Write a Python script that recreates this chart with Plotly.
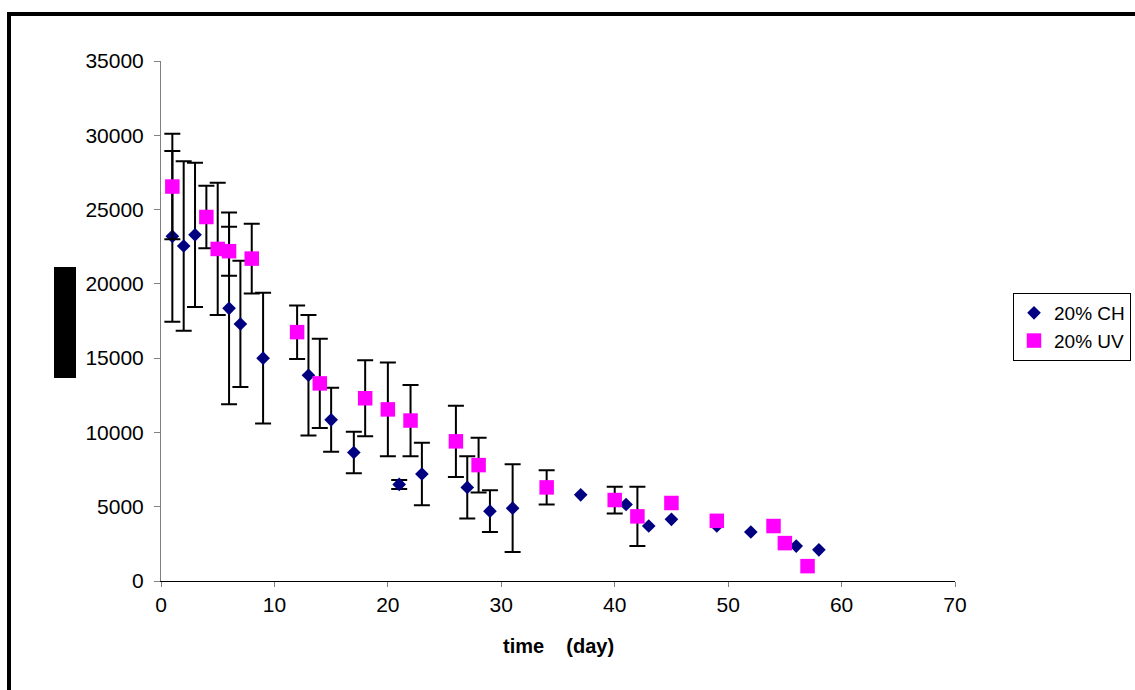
import plotly.graph_objects as go

# ---- data -------------------------------------------------------------
# 20% CH : days, mean values, symmetric error (None = no error bar)
ch_day = [1, 2, 3, 6, 7, 9, 13, 15, 17, 21, 23, 27, 29, 31, 37, 41, 43, 45, 49, 52, 56, 58]
ch_val = [23200, 22550, 23300, 18350, 17300, 15000, 13850, 10850, 8650, 6500, 7200, 6300,
          4700, 4900, 5800, 5150, 3700, 4150, 3700, 3300, 2350, 2100]
ch_err = [5750, 5700, 4850, 6450, 4250, 4400, 4050, 2150, 1400, 300, 2100, 2100,
          1400, 2950, None, None, None, None, None, None, None, None]

# 20% UV
uv_day = [1, 4, 5, 6, 8, 12, 14, 18, 20, 22, 26, 28, 34, 40, 42, 45, 49, 54, 55, 57]
uv_val = [26550, 24500, 22350, 22200, 21700, 16750, 13300, 12300, 11550, 10800, 9400, 7800,
          6300, 5450, 4350, 5250, 4050, 3700, 2550, 1000]
uv_err = [3550, 2100, 4450, 1650, 2350, 1800, 3000, 2550, 3150, 2400, 2400, 1850,
          1150, 900, 2000, None, None, None, None, None]

x_ticks = [0, 10, 20, 30, 40, 50, 60, 70]
y_ticks = [0, 5000, 10000, 15000, 20000, 25000, 30000, 35000]

# ---- page geometry (pixels) --------------------------------------------
W, H = 1135, 690
PL, PR, PT, PB = 161, 955, 61, 581   # plot area edges

def px_x(p):
    return (p - PL) / (PR - PL)

def px_y(p):
    return (PB - p) / (PB - PT)

FONT = "Arial, Liberation Sans, sans-serif"
NAVY = "#000080"
MAGENTA = "#FF00FF"


def split(days, vals, errs):
    with_err = [(d, v, e) for d, v, e in zip(days, vals, errs) if e is not None]
    no_err = [(d, v) for d, v, e in zip(days, vals, errs) if e is None]
    return with_err, no_err


def add_series(fig, name, days, vals, errs, symbol, size, color):
    with_err, no_err = split(days, vals, errs)
    err_style = dict(type="data", symmetric=True, color="black", thickness=2, width=8)
    fig.add_trace(go.Scatter(
        x=[p[0] for p in with_err], y=[p[1] for p in with_err],
        mode="markers", name=name, legendgroup=name,
        marker=dict(symbol=symbol, size=size, color=color, line=dict(width=0)),
        error_y=dict(array=[p[2] for p in with_err], **err_style),
    ))
    fig.add_trace(go.Scatter(
        x=[p[0] for p in no_err], y=[p[1] for p in no_err],
        mode="markers", name=name, legendgroup=name, showlegend=False,
        marker=dict(symbol=symbol, size=size, color=color, line=dict(width=0)),
    ))


fig = go.Figure()
add_series(fig, "20% CH", ch_day, ch_val, ch_err, "diamond", 10.5, NAVY)
add_series(fig, "20% UV", uv_day, uv_val, uv_err, "square", 14.5, MAGENTA)

fig.update_layout(
    width=W, height=H,
    margin=dict(l=PL, r=W - PR, t=PT, b=H - PB, pad=0, autoexpand=False),
    paper_bgcolor="white", plot_bgcolor="white",
    font=dict(family=FONT, size=20, color="black"),
    showlegend=True,
    legend=dict(
        x=px_x(1013), y=px_y(293), xanchor="left", yanchor="top",
        bordercolor="black", borderwidth=1, bgcolor="white",
        font=dict(family=FONT, size=19, color="black"),
        itemwidth=30, tracegroupgap=0,
    ),
    xaxis=dict(
        range=[0, 70], tickvals=x_ticks, ticktext=[str(t) for t in x_ticks],
        showgrid=False, zeroline=False,
        showline=True, linecolor="black", linewidth=1,
        ticks="outside", ticklen=5, tickcolor="#808080", tickwidth=1,
        tickfont=dict(family=FONT, size=21, color="black"),
    ),
    yaxis=dict(
        range=[0, 35000], tickvals=y_ticks, ticktext=[str(t) for t in y_ticks],
        showgrid=False, zeroline=False,
        showline=True, linecolor="#808080", linewidth=1,
        ticks="outside", ticklen=6, tickcolor="#808080", tickwidth=1,
        tickfont=dict(family=FONT, size=21, color="black"),
        ticklabelstandoff=6,
    ),
    shapes=[
        # outer frame
        dict(type="rect", xref="paper", yref="paper",
             x0=px_x(9), x1=px_x(W + 20), y0=px_y(14), y1=px_y(H + 20),
             line=dict(color="black", width=4), fillcolor="rgba(0,0,0,0)", layer="above"),
        # filled block over the y-axis title area
        dict(type="rect", xref="paper", yref="paper",
             x0=px_x(54), x1=px_x(76), y0=px_y(378), y1=px_y(267),
             line=dict(width=0), fillcolor="black", layer="above"),
    ],
    annotations=[
        dict(text="<b>time\u00a0\u00a0\u00a0\u00a0(day)</b>", xref="paper", yref="paper",
             x=0.5, y=px_y(646), xanchor="center", yanchor="middle", showarrow=False,
             font=dict(family=FONT, size=20, color="black")),
    ],
)

fig.write_html("out.html")
